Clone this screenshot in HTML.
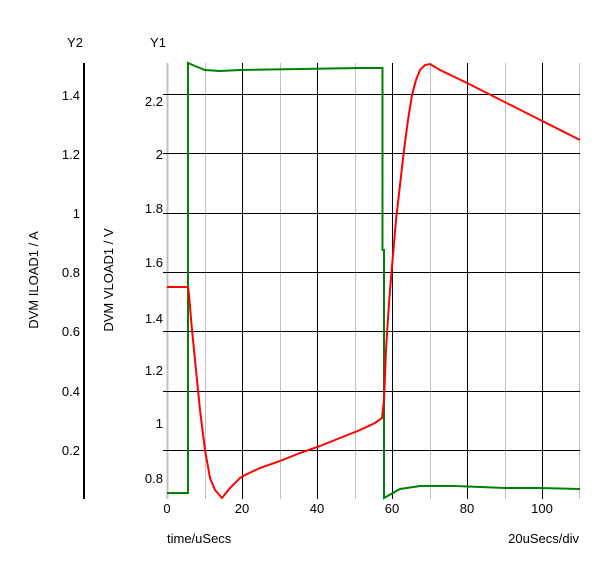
<!DOCTYPE html>
<html><head><meta charset="utf-8"><style>
html,body{margin:0;padding:0;background:#fff;}
svg{display:block;font-family:"Liberation Sans",Arial,sans-serif;font-size:13px;}
</style></head><body>
<svg width="600" height="563" viewBox="0 0 600 563">
<rect width="600" height="563" fill="#fff"/>
<g stroke="#c0c0c0" stroke-width="1">
<line x1="167.5" y1="63" x2="167.5" y2="499" stroke-width="2"/>
<line x1="205.5" y1="63" x2="205.5" y2="499"/>
<line x1="280.5" y1="63" x2="280.5" y2="499"/>
<line x1="355.5" y1="63" x2="355.5" y2="499"/>
<line x1="430.5" y1="63" x2="430.5" y2="499"/>
<line x1="505.5" y1="63" x2="505.5" y2="499"/>
<line x1="579.5" y1="63" x2="579.5" y2="499"/>
</g>
<g stroke="#000" stroke-width="1">
<line x1="242.5" y1="63" x2="242.5" y2="499"/>
<line x1="317.5" y1="63" x2="317.5" y2="499"/>
<line x1="392.5" y1="63" x2="392.5" y2="499"/>
<line x1="467.5" y1="63" x2="467.5" y2="499"/>
<line x1="542.5" y1="63" x2="542.5" y2="499"/>
<line x1="163" y1="94.5" x2="580" y2="94.5"/>
<line x1="163" y1="153.5" x2="580" y2="153.5"/>
<line x1="163" y1="213.5" x2="580" y2="213.5"/>
<line x1="163" y1="272.5" x2="580" y2="272.5"/>
<line x1="163" y1="331.5" x2="580" y2="331.5"/>
<line x1="163" y1="391.5" x2="580" y2="391.5"/>
<line x1="163" y1="450.5" x2="580" y2="450.5"/>
</g>
<line x1="84" y1="63" x2="84" y2="499" stroke="#000" stroke-width="2"/>
<polyline fill="none" stroke="#008000" stroke-width="2" points="167,493 188,493 188,63 195,66 205,70 220,71 240,70 300,69 360,68 382.5,68 382.5,250 384,250 384,498 400,489 420,486 455,486 505,488 540,488 580,489"/>
<polyline fill="none" stroke="#ff0000" stroke-width="2" points="167,287 188,287 189,295 192,330 196,370 200,410 205,450 210,478 215,490 222,498 230,488 240,478 245,475 260,468 280,461 300,453 320,446 340,438 360,430 375,423 382,418 384,400 386,350 388,318 390,290 393,255 396,220 400,185 404,150 408,120 412,95 416,80 420,70 425,65 430,64 440,70 465,82 580,140"/>
<g fill="#000" text-anchor="middle">
<text x="75" y="47">Y2</text>
<text x="158" y="47">Y1</text>
</g>
<g fill="#000" text-anchor="end">
<text x="80" y="100">1.4</text>
<text x="80" y="159">1.2</text>
<text x="80" y="218">1</text>
<text x="80" y="277">0.8</text>
<text x="80" y="336">0.6</text>
<text x="80" y="396">0.4</text>
<text x="80" y="455">0.2</text>
<text x="163" y="106">2.2</text>
<text x="163" y="159">2</text>
<text x="163" y="213">1.8</text>
<text x="163" y="267">1.6</text>
<text x="163" y="323">1.4</text>
<text x="163" y="375">1.2</text>
<text x="163" y="428">1</text>
<text x="163" y="483">0.8</text>
</g>
<g fill="#000" text-anchor="middle">
<text x="167" y="513">0</text>
<text x="242" y="513">20</text>
<text x="317" y="513">40</text>
<text x="392" y="513">60</text>
<text x="467" y="513">80</text>
<text x="542" y="513">100</text>
</g>
<text x="167" y="543" fill="#000">time/uSecs</text>
<text x="579" y="543" fill="#000" text-anchor="end">20uSecs/div</text>
<text transform="translate(38,280) rotate(-90)" text-anchor="middle" fill="#000">DVM ILOAD1 / A</text>
<text transform="translate(113,280) rotate(-90)" text-anchor="middle" fill="#000">DVM VLOAD1 / V</text>
</svg>
</body></html>
